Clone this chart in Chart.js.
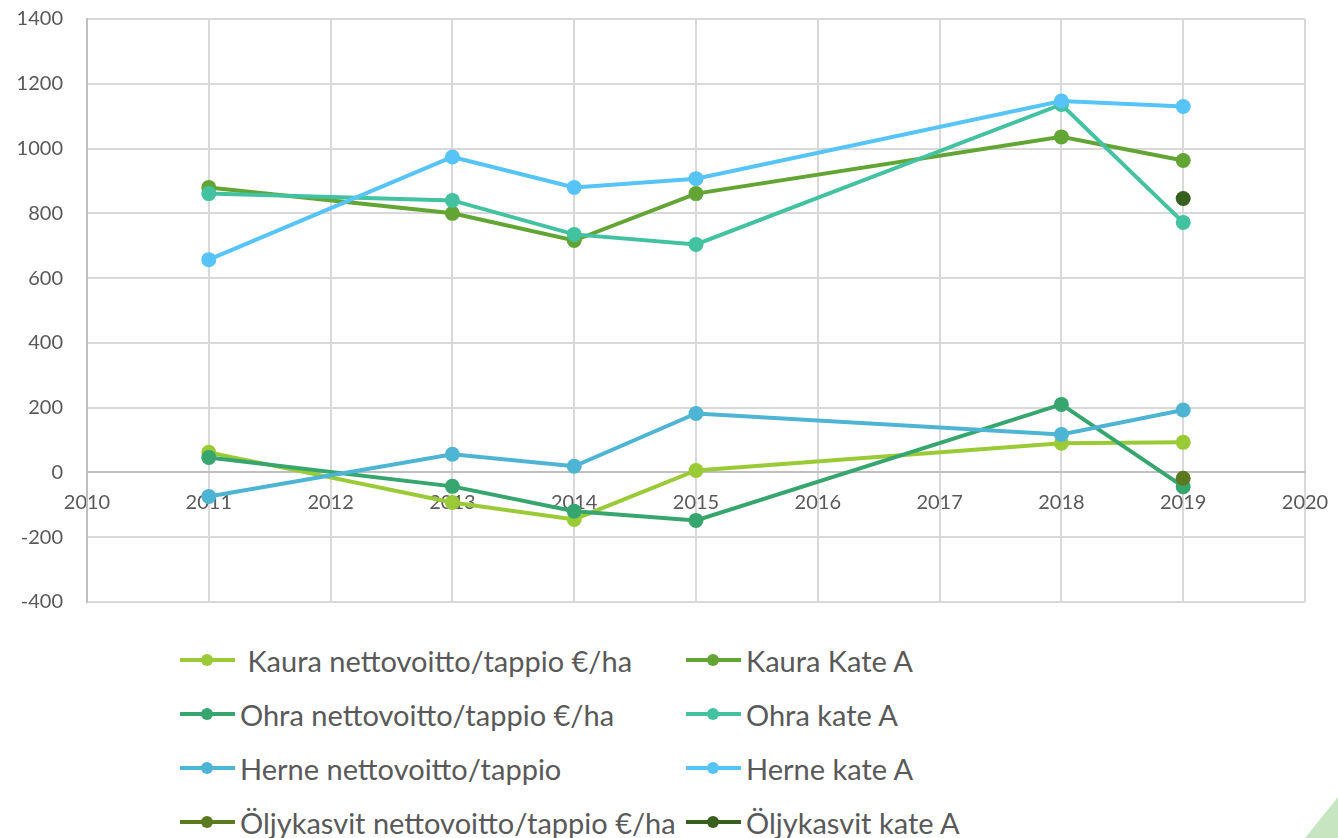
<!DOCTYPE html>
<html>
<head>
<meta charset="utf-8">
<script src="https://cdn.jsdelivr.net/npm/chart.js@4.4.1/dist/chart.umd.min.js"></script>
<style>
    html, body { margin: 0; padding: 0; background: #fff; }
    body { width: 1338px; height: 838px; position: relative; overflow: hidden; font-family: Lato, sans-serif; }
    #wrap { position: absolute; left: 0; top: 0; width: 1338px; height: 620px; }
    #legend { position: absolute; left: 0; top: 0; }
    .item { position: absolute; height: 36px; display: flex; align-items: center; white-space: pre; color: #595959; font-size: 29px; }
    .mark { position: relative; width: 55px; height: 36px; margin-right: 5px; }
    .mark .ln { position: absolute; left: 0; right: 0; top: 16px; height: 4px; }
    .mark .dt { position: absolute; left: 21px; top: 12px; width: 12px; height: 12px; border-radius: 50%; }
    #corner { position: absolute; left: 1305px; top: 797px; width: 33px; height: 41px; background: #c8e5c1; clip-path: polygon(0 100%, 100% 0, 100% 100%); }
</style>
</head>
<body>
<div id="wrap"><canvas id="chart" width="1338" height="620"></canvas></div>
<div id="legend"></div>
<div id="corner"></div>
<script>
    // Vuodet ja sarjat
    const years = [2011, 2013, 2014, 2015, 2018, 2019];

    const kauraNetto = [62, -93, -145, 6, 90, 93];
    const kauraKate = [880, 800, 716, 861, 1036, 963];
    const ohraNetto = [46, -43, -120, -148, 210, -44];
    const ohraKate = [861, 840, 735, 704, 1136, 772];
    const herneNetto = [-74, 56, 19, 182, 117, 193];
    const herneKate = [657, 974, 880, 907, 1147, 1130];
    const oljyNetto = [null, null, null, null, null, -18];
    const oljyKate = [null, null, null, null, null, 846];

    const seriesLabels = [
        ' Kaura nettovoitto/tappio €/ha', 'Kaura Kate A',
        'Ohra nettovoitto/tappio €/ha', 'Ohra kate A',
        'Herne nettovoitto/tappio', 'Herne kate A',
        'Öljykasvit nettovoitto/tappio €/ha', 'Öljykasvit kate A'
    ];
    const seriesValues = [kauraNetto, kauraKate, ohraNetto, ohraKate, herneNetto, herneKate, oljyNetto, oljyKate];
    const seriesColors = ['#9acb37', '#63a534', '#36a56e', '#43c2a1', '#4db5d3', '#56c4f7', '#5b7a1f', '#395f1f'];

    const yTicks = { min: -400, max: 1400, step: 200 };
    const xTicks = { min: 2010, max: 2020, step: 1 };

    document.addEventListener('DOMContentLoaded', function() {
        initChart();
        buildLegend();
    });

    function initChart() {
        const n = seriesValues.length;
        const datasets = seriesValues.map(function(vals, i) {
            return {
                label: seriesLabels[i],
                data: years.map(function(y, j) { return { x: y, y: vals[j] }; }),
                borderColor: seriesColors[i],
                backgroundColor: seriesColors[i],
                pointBackgroundColor: seriesColors[i],
                pointBorderColor: seriesColors[i],
                pointRadius: 7.5,
                pointBorderWidth: 0,
                borderWidth: 4,
                tension: 0,
                order: n - i
            };
        });

        const ctx = document.getElementById('chart').getContext('2d');
        new Chart(ctx, {
            type: 'line',
            data: { datasets: datasets },
            options: {
                responsive: false,
                animation: false,
                layout: { padding: { top: 19, right: 33, bottom: 18, left: 0 } },
                plugins: {
                    legend: { display: false },
                    tooltip: { enabled: false }
                },
                scales: {
                    x: {
                        type: 'linear',
                        position: { y: 0 },
                        min: xTicks.min,
                        max: xTicks.max,
                        afterFit: function(scale) { scale.height = 0; scale.paddingLeft = 0; scale.paddingRight = 0; },
                        grid: { color: '#d9d9d9', lineWidth: 2, drawTicks: false },
                        border: { color: '#bfbfbf', width: 2 },
                        ticks: {
                            stepSize: xTicks.step,
                            padding: 18,
                            color: '#595959',
                            font: { family: 'Lato', size: 20 },
                            maxRotation: 0,
                            callback: function(v) { return String(v); }
                        }
                    },
                    y: {
                        min: yTicks.min,
                        max: yTicks.max,
                        grid: { color: '#d9d9d9', lineWidth: 2, drawTicks: false },
                        border: { color: '#bfbfbf', width: 2 },
                        afterFit: function(scale) { scale.width = 87; scale.paddingTop = 0; scale.paddingBottom = 0; },
                        ticks: {
                            stepSize: yTicks.step,
                            padding: 24,
                            color: '#595959',
                            font: { family: 'Lato', size: 20 },
                            callback: function(v) { return String(v); }
                        }
                    }
                }
            }
        });
    }

    function buildLegend() {
        const legend = document.getElementById('legend');
        const colLeft = [180, 686];
        const rowMid = [660, 714, 768, 822];
        seriesLabels.forEach(function(label, i) {
            const item = document.createElement('div');
            item.className = 'item';
            item.style.left = colLeft[i % 2] + 'px';
            item.style.top = (rowMid[Math.floor(i / 2)] - 18) + 'px';
            item.innerHTML = '<div class="mark"><div class="ln"></div><div class="dt"></div></div>';
            item.querySelector('.ln').style.background = seriesColors[i];
            item.querySelector('.dt').style.background = seriesColors[i];
            const txt = document.createElement('span');
            txt.textContent = label;
            item.appendChild(txt);
            legend.appendChild(item);
        });
    }
</script>
</body>
</html>
